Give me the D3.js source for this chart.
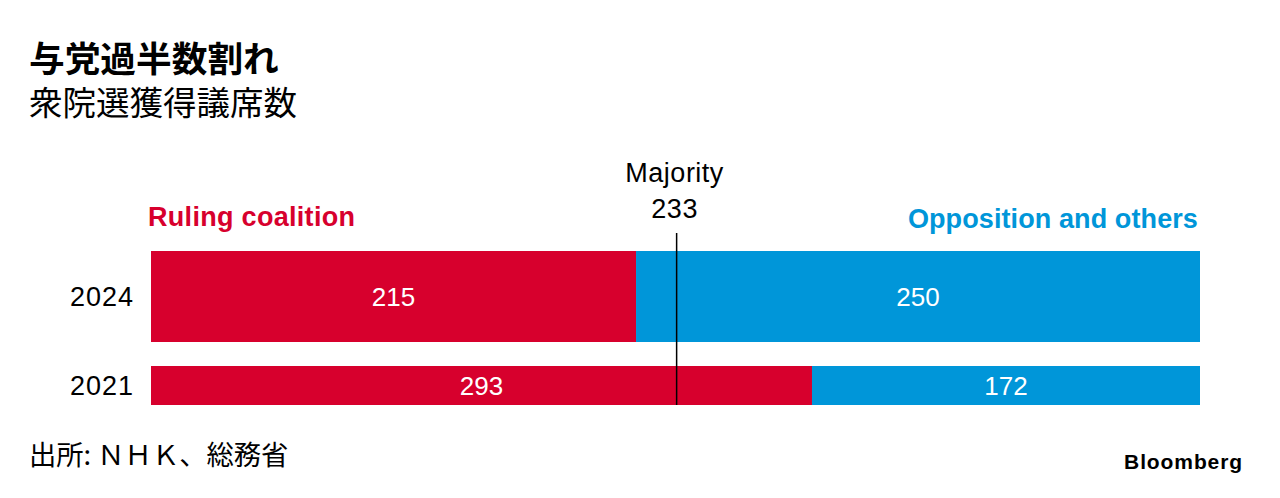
<!DOCTYPE html>
<html>
<head>
<meta charset="utf-8">
<script src="https://cdn.jsdelivr.net/npm/d3@7"></script>
<style>
  html, body { margin: 0; padding: 0; background: #fff; }
  svg { display: block; }
  .latin { font-family: "Liberation Sans", Arial, Helvetica, sans-serif; }
  .cjk { font-family: "Noto Sans CJK JP", "Noto Sans", sans-serif; }
</style>
</head>
<body>
<div id="chart"></div>
<script>
// Data
const years = ["2024", "2021"];
const series = ["Ruling coalition", "Opposition and others"];
const ruling = [215, 293];
const opposition = [250, 172];
const totalSeats = 465;
const majority = 233;

const colors = ["#d7002d", "#0096d9"];

// Layout
const W = 1280, H = 498;
const barLeft = 151, barRight = 1200;
const rowTop = 251;
const rowHeights = { "2024": 91, "2021": 39 };
const rowGap = 24;

const svg = d3.select("#chart")
  .append("svg")
  .attr("width", W)
  .attr("height", H);

const x = d3.scaleLinear()
  .domain([0, totalSeats])
  .range([barLeft, barRight]);

// rows have different thickness, so stack them by hand
const rows = [];
let yPos = rowTop;
years.forEach((yr, i) => {
  rows.push({ year: yr, y: yPos, h: rowHeights[yr], values: [ruling[i], opposition[i]] });
  yPos += rowHeights[yr] + rowGap;
});
const chartBottom = yPos - rowGap;

// Title
svg.append("text")
  .attr("class", "cjk")
  .attr("x", 29)
  .attr("y", 72)
  .attr("font-size", 35.7)
  .attr("font-weight", 700)
  .attr("fill", "#000")
  .text("与党過半数割れ");

svg.append("text")
  .attr("class", "cjk")
  .attr("x", 29)
  .attr("y", 115)
  .attr("font-size", 33.5)
  .attr("fill", "#000")
  .text("衆院選獲得議席数");

// Series labels
svg.append("text")
  .attr("class", "latin")
  .attr("x", x(0) - 3)
  .attr("y", 226)
  .attr("font-size", 27)
  .attr("font-weight", 700)
  .attr("letter-spacing", 0.3)
  .attr("fill", colors[0])
  .text(series[0]);

svg.append("text")
  .attr("class", "latin")
  .attr("x", x(totalSeats) - 2)
  .attr("y", 228)
  .attr("text-anchor", "end")
  .attr("font-size", 27)
  .attr("font-weight", 700)
  .attr("letter-spacing", 0.1)
  .attr("fill", colors[1])
  .text(series[1]);

// Bars
const rowG = svg.selectAll(".row")
  .data(rows)
  .enter()
  .append("g")
  .attr("class", "row");

rowG.each(function(d) {
  const g = d3.select(this);
  const segs = d3.cumsum(d.values);
  const starts = [0, segs[0]];
  d.values.forEach((v, j) => {
    g.append("rect")
      .attr("x", x(starts[j]))
      .attr("y", d.y)
      .attr("width", x(starts[j] + v) - x(starts[j]))
      .attr("height", d.h)
      .attr("fill", colors[j]);
    g.append("text")
      .attr("class", "latin")
      .attr("x", x(starts[j] + v / 2))
      .attr("y", d.y + d.h / 2)
      .attr("dy", "0.36em")
      .attr("text-anchor", "middle")
      .attr("font-size", 26)
      .attr("fill", "#fff")
      .text(v);
  });
  g.append("text")
    .attr("class", "latin")
    .attr("x", 134)
    .attr("y", d.y + d.h / 2)
    .attr("dy", "0.36em")
    .attr("text-anchor", "end")
    .attr("font-size", 27)
    .attr("letter-spacing", 1)
    .attr("fill", "#000")
    .text(d.year);
});

// Majority line
svg.append("line")
  .attr("x1", x(majority))
  .attr("x2", x(majority))
  .attr("y1", 233)
  .attr("y2", chartBottom)
  .attr("stroke", "#000")
  .attr("stroke-width", 1.5);

svg.append("text")
  .attr("class", "latin")
  .attr("x", x(majority) - 2)
  .attr("y", 182)
  .attr("text-anchor", "middle")
  .attr("font-size", 27)
  .attr("letter-spacing", 0.5)
  .attr("fill", "#000")
  .text("Majority");

svg.append("text")
  .attr("class", "latin")
  .attr("x", x(majority) - 2)
  .attr("y", 218)
  .attr("text-anchor", "middle")
  .attr("font-size", 27)
  .attr("letter-spacing", 0.5)
  .attr("fill", "#000")
  .text(majority);

// Footer
svg.append("text")
  .attr("class", "cjk")
  .attr("x", 29)
  .attr("y", 465)
  .attr("font-size", 27.3)
  .attr("fill", "#000")
  .text("出所: ＮＨＫ、総務省");

svg.append("text")
  .attr("class", "latin")
  .attr("x", 1243)
  .attr("y", 469)
  .attr("text-anchor", "end")
  .attr("font-size", 21)
  .attr("font-weight", 700)
  .attr("letter-spacing", 0.9)
  .attr("fill", "#000")
  .text("Bloomberg");
</script>
</body>
</html>
